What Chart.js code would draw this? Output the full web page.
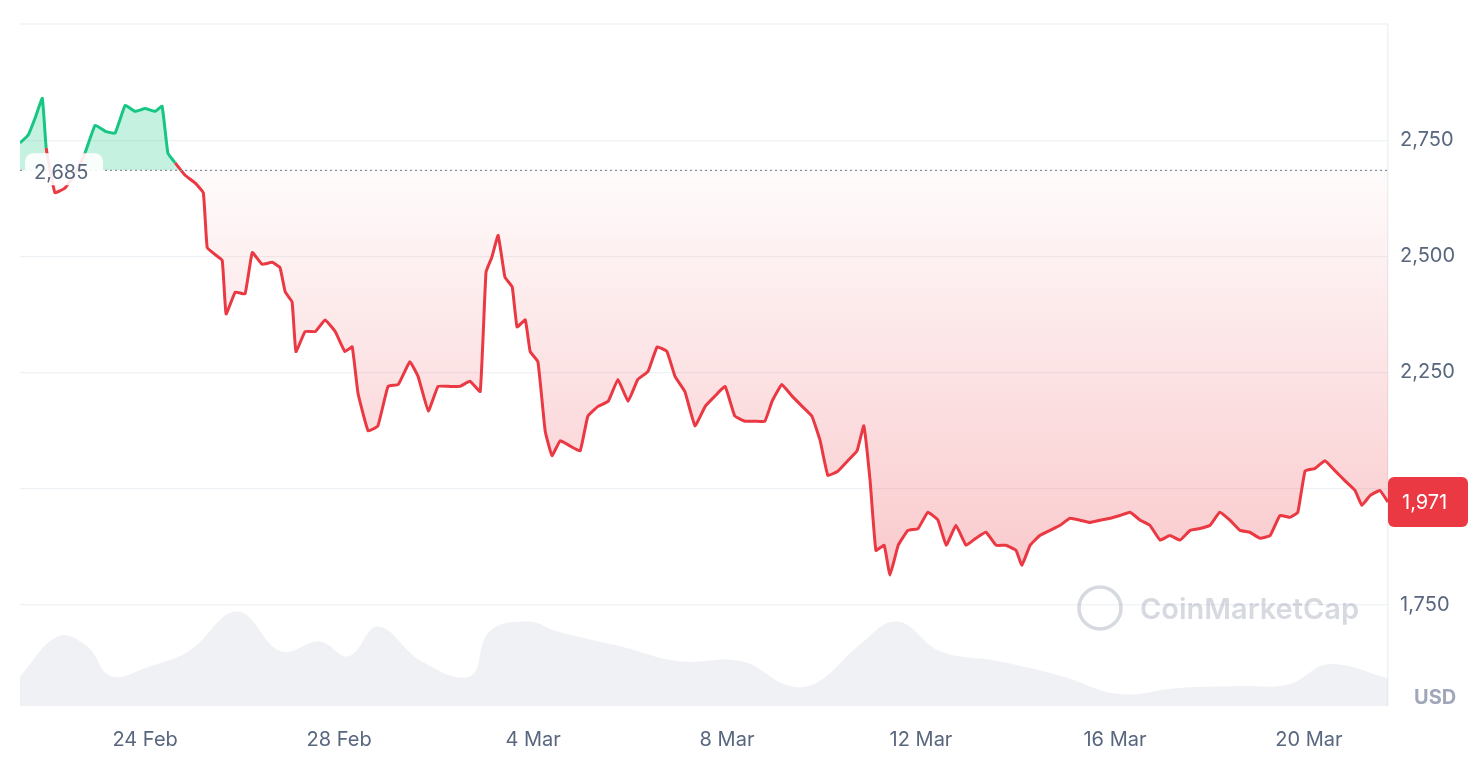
<!DOCTYPE html>
<html>
<head>
<meta charset="utf-8">
<style>
  html, body { margin: 0; padding: 0; background: #fff; }
  #wrap { position: relative; width: 1482px; height: 774px; }
</style>
</head>
<body>
<div id="wrap"><canvas id="priceChart" width="1482" height="774"></canvas></div>
<script src="https://cdn.jsdelivr.net/npm/chart.js"></script>
<script>
// time in days since 21 Feb 00:00
const times = [0.42,0.59,0.73,0.88,0.96,1.14,1.35,1.56,1.76,1.97,2.18,2.38,2.59,2.79,3.00,3.21,3.35,3.47,3.62,3.82,
  4.03,4.20,4.28,4.44,4.59,4.67,4.86,5.06,5.21,5.41,5.62,5.78,5.89,6.03,6.11,6.30,6.51,6.71,6.92,7.12,
  7.27,7.39,7.60,7.80,8.01,8.22,8.46,8.63,8.84,9.04,9.25,9.49,9.70,9.91,10.03,10.15,10.28,10.42,10.57,10.67,
  10.84,10.94,11.10,11.25,11.39,11.56,11.76,11.97,12.13,12.34,12.55,12.75,12.96,13.16,13.37,13.56,13.76,13.93,14.13,14.34,
  14.55,14.75,14.96,15.16,15.37,15.58,15.78,15.93,16.13,16.34,16.55,16.75,16.92,17.08,17.29,17.49,17.68,17.82,17.95,18.07,
  18.24,18.36,18.53,18.73,18.94,19.14,19.35,19.52,19.72,19.93,20.13,20.34,20.55,20.75,20.96,21.08,21.25,21.45,21.66,21.87,
  22.07,22.28,22.48,22.69,22.90,23.10,23.31,23.52,23.72,23.93,24.13,24.34,24.55,24.75,24.96,25.16,25.37,25.58,25.78,25.99,
  26.20,26.40,26.61,26.77,26.92,27.12,27.33,27.54,27.74,27.95,28.09,28.26,28.46,28.63];
const prices = [2744,2761,2797,2840,2733,2637,2647,2679,2722,2782,2769,2765,2825,2812,2818,2812,2823,2722,2701,2675,
  2658,2637,2519,2504,2491,2376,2423,2419,2508,2483,2487,2476,2423,2402,2295,2338,2338,2363,2338,2295,
  2305,2205,2124,2135,2220,2224,2273,2241,2167,2220,2220,2220,2231,2209,2466,2498,2545,2455,2434,2348,
  2363,2295,2273,2124,2071,2103,2092,2081,2156,2177,2188,2235,2188,2235,2252,2305,2295,2241,2209,2135,
  2177,2199,2220,2156,2145,2145,2145,2188,2224,2199,2177,2156,2103,2028,2038,2060,2081,2135,2017,1867,
  1878,1814,1878,1910,1914,1949,1932,1878,1921,1878,1893,1906,1878,1878,1867,1835,1878,1899,1910,1921,
  1936,1932,1927,1932,1936,1942,1949,1932,1921,1889,1899,1889,1910,1914,1921,1949,1932,1910,1906,1893,
  1899,1942,1938,1949,2038,2043,2060,2038,2017,1996,1964,1985,1996,1971];
const volTimes = [0.42,1.2,1.8,2.3,3.1,3.9,4.9,5.8,6.6,7.2,7.8,8.7,9.7,10.1,10.9,11.5,12.8,14.0,15.3,16.3,
  16.9,17.7,18.5,19.4,20.6,21.9,23.1,24.3,25.6,26.6,27.4,28.63];
const volumes = [30,70,60,30,40,55,95,55,65,50,80,45,30,75,85,75,60,45,45,20,25,60,85,55,45,30,12,18,20,22,42,28];
const baseline = 2685;
const lastPrice = 1971;
const yTicks = [1750, 2000, 2250, 2500, 2750];
const xTicks = [3, 7, 11, 15, 19, 23, 27];
const xLabels = ['24 Feb', '28 Feb', '4 Mar', '8 Mar', '12 Mar', '16 Mar', '20 Mar'];

const GREEN = '#16c784', RED = '#ea3943';
const fmt = v => v.toLocaleString('en-US');

const overlay = {
  id: 'overlay',
  afterDatasetsDraw(chart) {
    const { ctx, chartArea: a, scales: { y } } = chart;
    ctx.save();
    // baseline dotted
    const by = y.getPixelForValue(baseline);
    ctx.strokeStyle = '#8a909c';
    ctx.lineWidth = 1.2;
    ctx.setLineDash([2, 3]);
    ctx.beginPath(); ctx.moveTo(a.left, by); ctx.lineTo(a.right, by); ctx.stroke();
    ctx.setLineDash([]);
    // baseline label
    ctx.font = '20px Inter, sans-serif';
    ctx.fillStyle = 'rgba(255,255,255,0.9)';
    ctx.beginPath(); ctx.roundRect(a.left + 5, by - 17, 78, 32, 8); ctx.fill();
    ctx.fillStyle = '#58667e';
    ctx.textBaseline = 'middle';
    ctx.fillText(fmt(baseline), a.left + 14, by + 3);
    // last price tag
    const ly = y.getPixelForValue(lastPrice);
    ctx.fillStyle = RED;
    ctx.beginPath(); ctx.roundRect(a.right, ly - 25, 80, 50, 6); ctx.fill();
    ctx.fillStyle = '#fff';
    ctx.fillText(fmt(lastPrice), a.right + 14, ly + 1);
    // USD
    ctx.font = 'bold 20px Inter, sans-serif';
    ctx.fillStyle = '#a1a7bb';
    ctx.fillText('USD', a.right + 26, a.bottom - 8);
    // watermark
    ctx.globalAlpha = 0.35;
    ctx.strokeStyle = '#8a93a6';
    ctx.lineWidth = 3.5;
    ctx.beginPath(); ctx.arc(1100, 608, 21, 0, Math.PI * 2); ctx.stroke();
    ctx.font = '600 29px Inter, sans-serif';
    ctx.fillStyle = '#8a93a6';
    ctx.fillText('CoinMarketCap', 1140, 610);
    ctx.restore();
  }
};

const ctx = document.getElementById('priceChart').getContext('2d');
const chart = new Chart(ctx, {
  type: 'line',
  data: {
    datasets: [{
      data: times.map((t, i) => ({ x: t, y: prices[i] })),
      borderWidth: 3,
      borderColor: RED,
      segment: {
        borderColor: c => (c.p0.parsed.y >= baseline && c.p1.parsed.y >= baseline) ? GREEN : RED
      },
      pointRadius: 0,
      tension: 0.1,
      fill: { value: baseline, above: 'rgba(22,199,132,0.25)', below: 'rgba(234,57,67,0.1)' },
      yAxisID: 'y',
      order: 1
    }, {
      data: volTimes.map((t, i) => ({ x: t, y: volumes[i] })),
      borderWidth: 0,
      backgroundColor: 'rgba(205,210,220,0.3)',
      pointRadius: 0,
      tension: 0.4,
      fill: 'origin',
      yAxisID: 'vol',
      order: 2
    }]
  },
  options: {
    responsive: false,
    animation: false,
    layout: { padding: { left: 20, top: 18 } },
    plugins: { legend: { display: false }, tooltip: { enabled: false } },
    scales: {
      x: {
        type: 'linear', min: 0.42, max: 28.63,
        afterBuildTicks: s => { s.ticks = xTicks.map(v => ({ value: v })); },
        afterFit: s => { s.height = 68; },
        grid: { display: false },
        border: { display: false },
        ticks: {
          padding: 14, color: '#58667e', font: { size: 20, family: 'Inter, sans-serif' },
          callback: v => xLabels[xTicks.indexOf(v)]
        }
      },
      y: {
        position: 'right', min: 1532, max: 3000,
        afterBuildTicks: s => { s.ticks = yTicks.map(v => ({ value: v })); },
        afterFit: s => { s.width = 94; },
        grid: { color: '#eff2f5', lineWidth: 1.2, drawTicks: false },
        border: { display: true, color: '#eff2f5', width: 1.5 },
        ticks: {
          padding: 12, color: '#58667e', font: { size: 20, family: 'Inter, sans-serif' },
          callback: v => v === 2000 ? '' : fmt(v)
        }
      },
      vol: { display: false, min: 0, max: 686 }
    }
  },
  plugins: [overlay, {
    id: 'topBorder',
    beforeDatasetsDraw(c) {
      const { ctx, chartArea: a } = c;
      ctx.save(); ctx.strokeStyle = '#eff2f5'; ctx.lineWidth = 1.5;
      ctx.beginPath(); ctx.moveTo(a.left, a.top); ctx.lineTo(a.right, a.top); ctx.stroke();
      ctx.restore();
    }
  }]
});

// red gradient fill below baseline, built from the scale
const ys = chart.scales.y;
const g = ctx.createLinearGradient(0, ys.getPixelForValue(baseline), 0, ys.getPixelForValue(1850));
g.addColorStop(0, 'rgba(234,57,67,0.02)');
g.addColorStop(1, 'rgba(234,57,67,0.26)');
chart.data.datasets[0].fill.below = g;
chart.update('none');
</script>
</body>
</html>
